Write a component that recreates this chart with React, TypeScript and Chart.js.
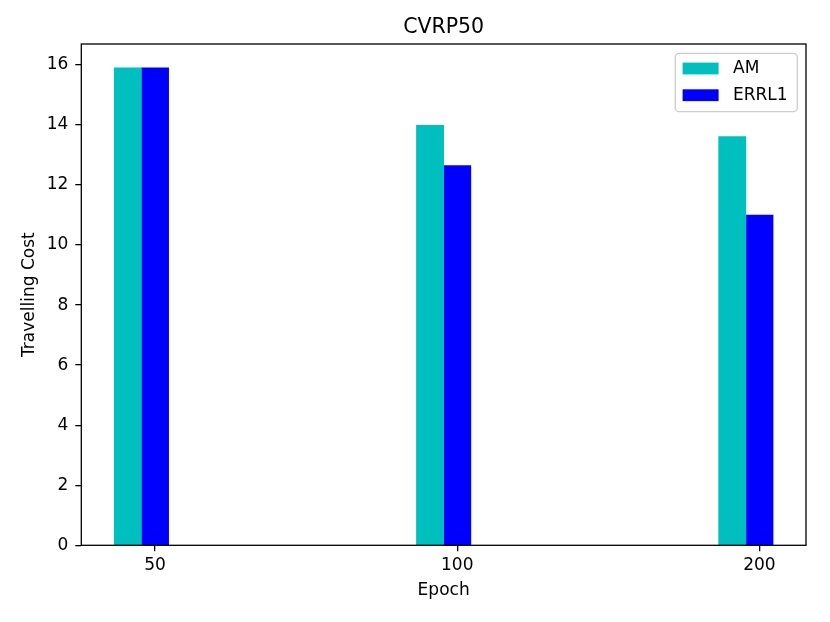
import { useEffect, useRef } from "react";
import { Chart, registerables } from "chart.js";

Chart.register(...registerables);

// values
const EPOCHS = ["50", "100", "200"];
const AM_COST = [15.9, 13.99, 13.61];
const ERRL1_COST = [15.9, 12.65, 11.0];
const SERIES_NAMES = ["AM", "ERRL1"];
const SERIES_COLORS = ["#00bfbf", "#0000ff"];
const Y_TICKS = [0, 2, 4, 6, 8, 10, 12, 14, 16];
const BAR_W = 0.09;

const FONT = "'DejaVu Sans', sans-serif";

// black frame around the plot, like matplotlib spines
const spinesPlugin = {
  id: "spines",
  afterDatasetsDraw(chart: Chart) {
    const { ctx, chartArea } = chart;
    ctx.save();
    ctx.strokeStyle = "#000";
    ctx.lineWidth = 1.3;
    ctx.strokeRect(
      chartArea.left,
      chartArea.top,
      chartArea.right - chartArea.left,
      chartArea.bottom - chartArea.top
    );
    ctx.restore();
  },
};

// legend box inside the upper right corner of the plot
const innerLegendPlugin = {
  id: "innerLegend",
  afterDraw(chart: Chart) {
    const { ctx, chartArea } = chart;
    const sets = chart.data.datasets;
    const boxW = 122;
    const rowH = 26.7;
    const boxH = 5 + rowH * sets.length;
    const x0 = chartArea.right - 8.7 - boxW;
    const y0 = chartArea.top + 9.3;

    ctx.save();
    ctx.fillStyle = "rgba(255,255,255,0.8)";
    ctx.strokeStyle = "#cccccc";
    ctx.lineWidth = 1.3;
    ctx.beginPath();
    ctx.roundRect(x0, y0, boxW, boxH, 4);
    ctx.fill();
    ctx.stroke();

    ctx.font = `17px ${FONT}`;
    ctx.textBaseline = "middle";
    ctx.textAlign = "left";
    sets.forEach((ds, i) => {
      const cy = y0 + 15.2 + i * rowH;
      ctx.fillStyle = ds.backgroundColor as string;
      ctx.fillRect(x0 + 7.3, cy - 5.9, 36, 11.8);
      ctx.fillStyle = "#000";
      ctx.fillText(ds.label ?? "", x0 + 57.7, cy);
    });
    ctx.restore();
  },
};

export default function App() {
  const canvasRef = useRef<HTMLCanvasElement>(null);

  useEffect(() => {
    document.body.style.margin = "0";
    if (!canvasRef.current) return;

    Chart.defaults.font.family = FONT;
    Chart.defaults.color = "#000";

    const n = EPOCHS.length;
    const lo = -1.5 * BAR_W;
    const hi = n - 1 + 0.5 * BAR_W;
    const xPad = 0.05 * (hi - lo);
    const yMax = Math.max(...AM_COST, ...ERRL1_COST) * 1.05;

    const chart = new Chart(canvasRef.current, {
      type: "bar",
      data: {
        datasets: [
          {
            label: SERIES_NAMES[0],
            data: AM_COST.map((y, i) => ({ x: i - BAR_W, y })),
            backgroundColor: SERIES_COLORS[0],
            borderWidth: 0,
          },
          {
            label: SERIES_NAMES[1],
            data: ERRL1_COST.map((y, i) => ({ x: i, y })),
            backgroundColor: SERIES_COLORS[1],
            borderWidth: 0,
          },
        ],
      },
      options: {
        animation: false,
        responsive: true,
        maintainAspectRatio: false,
        layout: { padding: { left: 0, right: 24, top: 0, bottom: 0 } },
        datasets: {
          bar: { grouped: false, categoryPercentage: 1, barPercentage: 1 },
        },
        plugins: {
          legend: { display: false },
          tooltip: { enabled: false },
          title: {
            display: true,
            text: "CVRP50",
            fullSize: false,
            color: "#000",
            font: { size: 20.5, weight: "normal", lineHeight: 1.2 },
            padding: { top: 15, bottom: 4.4 },
          },
        },
        scales: {
          x: {
            type: "linear",
            offset: false,
            min: lo - xPad,
            max: hi + xPad,
            afterBuildTicks: (scale) => {
              scale.ticks = EPOCHS.map((_, i) => ({ value: i }));
            },
            afterFit: (scale) => {
              scale.height = 76.7;
            },
            ticks: {
              font: { size: 17 },
              padding: 4.5,
              maxRotation: 0,
              autoSkip: false,
              callback: (v) => EPOCHS[Number(v)] ?? "",
            },
            grid: {
              offset: false,
              drawOnChartArea: false,
              drawTicks: true,
              tickLength: 6,
              color: "#000",
              lineWidth: 1.3,
            },
            border: { display: false },
            title: {
              display: true,
              text: "Epoch",
              font: { size: 17, lineHeight: 1.2 },
              padding: { top: 0, bottom: 21.5 },
            },
          },
          y: {
            min: 0,
            max: yMax,
            afterBuildTicks: (scale) => {
              scale.ticks = Y_TICKS.map((value) => ({ value }));
            },
            afterFit: (scale) => {
              scale.width = 81.3;
            },
            ticks: {
              font: { size: 17 },
              padding: 7,
              autoSkip: false,
              callback: (v) => String(v),
            },
            grid: {
              drawOnChartArea: false,
              drawTicks: true,
              tickLength: 6,
              color: "#000",
              lineWidth: 1.3,
            },
            border: { display: false },
            title: {
              display: true,
              text: "Travelling Cost",
              font: { size: 17, lineHeight: 1.2 },
              padding: { top: 19.8, bottom: 0 },
            },
          },
        },
      },
      plugins: [spinesPlugin, innerLegendPlugin],
    });

    return () => {
      chart.destroy();
    };
  }, []);

  return (
    <div style={{ width: 830, height: 622, position: "relative", background: "#fff" }}>
      <canvas ref={canvasRef}></canvas>
    </div>
  );
}
